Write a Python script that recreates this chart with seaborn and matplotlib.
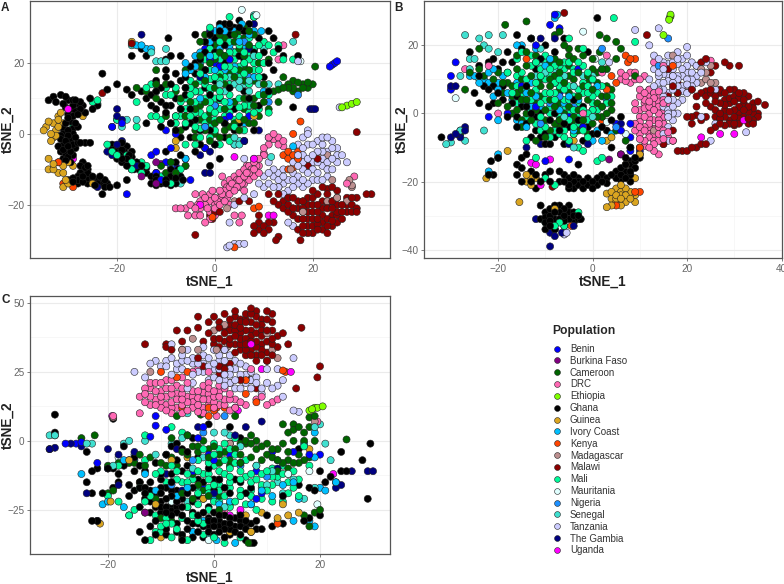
import matplotlib
matplotlib.use('Agg')
import matplotlib.pyplot as plt
import pandas as pd
import seaborn as sns

populations = ['Benin', 'Burkina Faso', 'Cameroon', 'DRC', 'Ethiopia', 'Ghana', 'Guinea', 'Ivory Coast', 'Kenya',
               'Madagascar', 'Malawi', 'Mali', 'Mauritania', 'Nigeria', 'Senegal', 'Tanzania', 'The Gambia', 'Uganda']
colours = ['#0000ff', '#800080', '#006400', '#ff69b4', '#7fff00', '#000000', '#daa520', '#00bfff', '#ff4500',
           '#bc8f8f', '#8b0000', '#00fa9a', '#e0ffff', '#1e90ff', '#40e0d0', '#ccccff', '#000080', '#ff00ff']

# Panel A, values
a_ghana = [(-34,9.5),(-33,10.5),(-32.5,9),(-31.5,11),(-30.5,10.5),(-31,8.5),(-30,9.5),(-29,8),(-28.5,9.5),(-28,8.5),
           (-27.5,9),(-29.5,7),(-28.5,6.5),(-27.5,7),(-30,5.5),(-29,5),(-28,5.5),(-29.5,3.5),(-30.5,3),(-28.5,3),
           (-31,1.5),(-30,1),(-29,1.5),(-31,0),(-30,-0.5),(-29,0),(-31.5,-1.5),(-30.5,-2),(-29.5,-1.5),(-31,-3.2),
           (-30,-3.5),(-29,-3),(-27.5,-2.5),(-26.5,-2.5),(-25.5,-2.5),(-32,-3.5),(-31.5,-5),(-30.5,-5.5),(-29.5,-5),
           (-28.5,-4),(-30,-6.5),(-31,-7),(-27,-8),(-26.5,-9.5),(-27,-10.5),(-26,-11),(-27,-12),(-26,-12.5),(-28,-13),
           (-29,-13.5),(-30,-13),(-27,-13.5),(-26,-14),(-25,-13.5),(-24.5,-14.5),(-23,-14),(-22,-14),(-23.5,-12),
           (-24,-13),(-22.5,-15),(-21.5,-15),(-23,-17),(-20,-14.5),(-18,-13),(-27.5,-11),(-25,7),(-24,8),(-25.5,10),
           (-20,14),(-22,12.5),(-17.5,-6),(-21,-3),(-20,-3.5),(-19,-2.5),(-18,-3.5),(-20.5,-5),(-19.5,-6),(-18.5,-5),
           (-19,-8),(-18,-9),(-17,-8),(-18,-7),(-16.5,-10),(-15.5,-10),(-15,-9),(-14,-11),(-13,-12),(-12,-13),(-11,-14),
           (-13,-14),(-10,-14),(-9,-13.5),(-8,-14),(-10,-12),(-7,-12),(-6.5,-13),(-12,-11),(-9,-10),(-8,-8),(-10,-5),
           (-7,-6),(-18,-6),(-18,12.5),(-17,11),(-15,12),(-13,11),(-12,15),(-10,16),(-11,13),(-9,14),(-8,17),(-10,18),
           (-7,15),(-6,16),(-5,19),(-4,20),(-3,21),(-2,23),(-1,25),(0,27),(1,29),(2,31),(3,31),(4,30),(5,32),(6,29),
           (8,33),(9,27),(11,29),(12,27),(13,24),(11,20),(12,18),(10,23),(14,22),(17,22),(-9.5,27),(-15,24),(-14,22),
           (-17,22),(-7,22),(-10,21),(-9,22),(-4,28),(-2,26),(-14,3),(-11,2),(-9,3),(-8,5),(-10,6),(-12,7),(-13,8),
           (-10,8),(-8,10),(-6,11),(-5,7),(-4,4),(-6,2),(-3,1),(-5,-1),(-3,-3),(-4,-5),(-2,-4),(0,-3),(1,-7),(-1,-9),
           (2,3),(4,7),(1,10),(3,13),(0,15),(-2,18),(2,20),(5,22),(-1,11),(6,12),(5,3),(8,1),(16,7.5),(10,16),(-23,17),
           (-30.5,7.5),(-29,9.5),(-27,8),(-26.5,6),(-30,4.5),(-28,2),(-31.5,-0.5),(-28.5,-1),(-30,-2.5),(-28,-2.5),(-31,-4.5),(-29,-6),
           (-30.5,-7.5),(-29.5,-8),(-27.5,-9),(-26,-9),(-26,-10),(-28,-12),(-25,-12),(-24,-14),(-22.5,-13),(-25.5,-13),(-28,-14),(-29,-12.5),
           (-20,-4),(-21,-4.5),(-19,-4.5),(-17,-5),(-20,-7),(-19,-7),(-17,-6.5),(-16,-8),(-16,-9),(-14,-9.5),(-12,-12),(-11,-12),(-9,-12),(-8,-12.5),
           (-9,-14.5),(-11,-13.5),(-10,-13),(-7.5,-10),(-12,-14.5),(1,31),(3,30),(5,30),(7,31),(0,23),(2,25),(6,21),(8,23),(-1,28),(3,28),(-6,13),(-4,17),(-2,13),
           (-12,12),(-14,10),(-9,8),(-7,7),(-5,3),(-1,1),(2,-1),(4,1),(7,10),(9,8),(11,12),(-8,1),(-7,-1),(-11,9)]
a_cameroon = [(-14,12),(-12,10),(-8,12),(-6,13),(-5,9),(-3,8),(-1,6),(1,4),(3,2),(5,1),(7,3),(9,5),(-2,1),(0,0),(-4,-1),
              (-1,-2),(1,-1),(3,-1),(-3,4),(0,8),(2,7),(6,7),(8,8),(10,9),(11,7),(13,9),(14,13),(15,14),(16,13),(17,12),
              (18,14),(17,14.5),(16,15),(19,13),(20,14),(20.5,19),(14,16),(-3,22),(-1,22),(1,23),(3,24),(5,24),(7,25),
              (0,25),(2,27),(4,26),(6,27),(8,28),(-3,26),(-2,28),(1,28),(3,28),(5,29),(7,29),(-5,18),(-3,19),(-1,20),
              (1,19),(3,21),(6,19),(9,20),(10,14),(8,15),(6,15),(4,16),(2,14),(0,13),(-2,15),(-4,14),(-6,18),(-9,3),(-7,1),
              (-10,14),(-12,18),(-16,13),(11,21),(12,12),(-11,-9),(-9,-8),(-10,-11),(-8,-11),(-6,-9),
              (2,29),(4,28),(6,30),(0,21),(2,22),(4,23),(6,22),(8,24),(-2,2),(0,3),(2,1),(4,3),(6,4),(8,3),(-4,7),(-2,9),(4,9),(6,10),(8,10),(10,11),
              (-6,5),(-4,1),(-1,4),(15,13),(16,12),(18,13),(19,14.5),(13,12.5),(1,16),(3,17),(5,18),(7,18),(-7,10),(-10,5),(-12,14)]
a_mali = [(-7,9),(-6,7),(-5,5),(-7,5),(-6,3),(-4,2),(-2,3),(0,4),(2,5),(4,4),(-5,11),(-3,12),(-1,13),(1,12),(3,11),(5,10),
          (7,9),(9,11),(-4,9),(-2,10),(0,10),(2,9),(4,9),(6,8),(8,6),(-3,6),(-1,7),(1,7),(3,6),(5,5),(7,6),(-2,14),(0,16),
          (2,16),(4,18),(6,17),(8,18),(9,16),(-1,18),(1,17),(3,19),(5,19),(7,21),(9,22),(-2,21),(0,22),(2,22),(4,23),
          (6,23),(8,24),(10,26),(3,26),(5,27),(7,27),(1,26),(-1,24),(-1,30),(3,33),(8,33),(-13,14),(-12,12),(-10,11),
          (-12,5),(-11,4),(-16,9),(-14,13),(-12,14),(-8,13),(-5,15),(13,25),(14,21),(16,21),(12,23),(11,25),(11,11),
          (-21,-5),(-20,-6),(-18,-6),(-17,-8),(-15,-8),(-14,-9),(-17,-10),(-22,-3),(-15,-11),(-9,-14),(-20,4),(-16,2),
          (-29,2),(-25,9),(-24,9.5),(-24,8.5),(1,-3),(3,-2),(-1,-1),(-3,-1),(11,6),(-11,-12),(-7,-10),
          (-6,10),(-4,12),(-7,7),(-5,8),(-3,9.5),(-1,9),(1,9.5),(3,8),(5,7.5),(7,8),(-6,5),(-4,3.5),(-2,5),(0,6),(2,3),(4,2),(-3,1.5),(-1,2),
          (-5,13),(-3,15),(-1,15.5),(1,15),(3,14),(5,16),(7,14),(-1,12),(1,10.5),(2,19),(4,21),(6,20),(8,20),(9,18),(10,20),(1,21),(3,23),(5,25),(7,23),(9,25),(-3,17),(-4,6),
          (-8,5),(-8,3),(-13,5),(-9,11),(-10,13),(-6,-3),(-4,-3),(0,1),(6,1),(9,7)]
a_senegal = [(2,12),(3,13),(4,14),(5,13),(6,14),(7,12),(1,14),(3,16),(5,15),(7,15),(9,14),(11,14),(13,14),(-17,25),
             (-13,23),(-12,20.5),(-11,20.5),(-10,20.5),(-10,24),(16,26),(4,-1),(5,-2),(5,-3),(6,-2),(4,-3),(-19,2),(-18,4),(-16,4),(11.5,-6.5),
             (-21,2),(-8,-11),(-7,-14),(10,24),(8,22),(8,33.5)]
a_ivory = [(-16,25),(-15,25),(-14,24),(-13,24),(-6,17),(-5,18),(-4,19),(-3,20),(-2,18),(0,18),(2,18),(4,19),(-1,22),
           (1,24),(3,25),(5,26),(6,24),(7,28),(8,29),(0,29),(2,29),(4,29),(5.5,31),(9.5,29),(-1,26),(3,9),(6,3),(10,12),
           (16,-3.5),(11,-1),(-2,16),(-4,22),(-9,-8),(-6,-7),(-3,10),(5,17),(1,30),(3,30),(-3,23),(-6,20),(6,20),(8,16)]
a_benin = [(-1,21),(0,20),(1,19),(3,21),(-2,24),(2,4),(3,5),(4,-3),(6,-2),(0,-3),(-2,-4),(-12,-5),(-13,-6),(-12,-11),
           (-11,-13),(-6,-7),(-5,-13),(-8,-9),(-10,-8),(-18,-17),(-20,4),(-21,2),(-19,3),(-10,1),(7,5),(-9,-4),(-8,0),
           (23.5,19),(24,19.5),(24.5,20),(25,20.5)]
a_nigeria = [(3,24),(6,26),(-4,12),(7,16),(17,11),(11,9),(0,8),(-2,2),(-9,-9)]
a_gambia = [(-15,28),(-1,29),(8,31),(-4,12),(-3,16),(-20,7),(-20,5),(-19,4),(-22,-5),(-21,-6),(-20,-3),(-17,-10),(-16,-9),
            (-19,-2),(-3,-6),(-1,-5),(-2,-11),(-1,-11),(6,-2),(9,1),(20,7),(20.5,7),(19.5,7),(-24,-15),(-4,-1),(7,24)]
a_guinea = [(-35,1),(-34.5,2),(-34,3.5),(-33,3),(-32.5,1),(-33.5,0),(-33,-1),(-32,2),(-32,4),(-33.5,-2),(-34,-7),(-33,-8.5),
            (-34,-10),(-33,-10),(-32,-8),(-32,-11),(-31,-9),(-30,-8),(-31,-11),(-30.5,-13),(-31,-15),(-30,-14),(-29,-9),(-32,5),
            (-31.5,6),(-27,5),(-25,-14),(-8,-2),(-8,-4),(5,4),(8,5),(-17,26),(-32.5,-0.5),(-31,3)]
a_drc = [(-6,-21),(-5,-20),(-4,-21),(-3,-19),(-3,-21),(-2,-18),(-2,-20),(-1,-17),(-1,-19),(-1,-22),(0,-18),(0,-20),(0,-21),
         (1,-16),(1,-18),(1,-20),(2,-14),(2,-16),(2,-19),(3,-13),(3,-15),(3,-17),(4,-12),(4,-14),(4,-16),(5,-11),(5,-13),
         (5,-15),(6,-10),(6,-12),(6,-14),(7,-9),(7,-11),(7,-13),(8,-8),(8,-10),(8,-12),(9,-7),(9,-9),(10,-6),(10,-4),
         (11,-3),(11,-1),(12,0),(13,-1),(13,-3),(14,-2),(14,-3.5),(-7,-21),(-8,-21),(-5.5,-23),(-2,-25),(4,-23),(5,-25),
         (5.5,-23),(-1,-24),(13,21),(14,25),(28.5,-12),(27,-14),(1.5,-12),(-4,-17),
         (-3.5,-20),(-2.5,-17),(-1.5,-21),(-0.5,-16),(0.5,-19),(1.5,-17),(2.5,-15),(2.5,-18),(3.5,-14),(3.5,-16),(4.5,-13),(4.5,-15),(5.5,-12),(5.5,-14),(6.5,-11),(6.5,-9),(7.5,-10),(7.5,-12),
         (8.5,-9),(9,-11),(3,-20),(-4,-23),(-3,-23),(0,-23),(6,-16),(12,-1.5),(10,-5.5)]
a_tanzania = [(10,-12),(11,-11),(12,-12),(13,-13),(13,-15),(14,-14),(15,-13),(16,-15),(15,-16),(17,-12),(18,-13),(17,-14),
              (18,-10),(19,-9),(20,-10),(21,-11),(22,-9),(23,-12),(24,-10),(25,-8),(19,-7),(20,-6),(21,-5),(22,-7),(23,-5),
              (24,-4),(18,-4),(17,-3),(18,-1),(19,0),(21,-2),(22,-3),(23,-1),(25,-4),(26,-6),(27,-8),(18,-6),(16,-8),(14,-10),
              (12,-10),(17,-9),(20,-13),(22,-13),(19,1),(14,-17),(12,-15),(10,-15),(8,-17),(6,-18),(4,-20),(3,-25),(15,-25),
              (16,-26),(3,-31.5),(4,-31),(5,-31),(6,-31),(2.5,-32),(8,-7),(6,-7),(25.5,7.5),(17,20.5),
              (19,-11),(21,-8),(23,-8),(20,-8),(18,-8),(24,-7),(22,-5),(20,-3),(17,-6),(16,-11),(19,-14),(18,-15),(21,-13),(23,-10),(25,-6),(24,-2),(22,-1),(19,-3),(16,-13),(14,-12),(11,-14),(9,-14),(13,-11),(11,-8),(15,-18)]
a_malawi = [(14,-19),(15,-20),(16,-18),(17,-21),(18,-19),(19,-20),(20,-18),(21,-20),(22,-19),(23,-17),(24,-19),(25,-18),
            (26,-20),(27,-18),(28,-20),(29,-22),(16,-23),(17,-24),(18,-22),(19,-24),(20,-22),(21,-24),(22,-23),(23,-21),
            (24,-23),(25,-22),(26,-24),(27,-22),(17,-27),(18,-26),(19,-28),(20,-26),(21,-27),(22,-25),(23,-26),(24,-26),
            (25,-25),(20,-16),(22,-15),(24,-15),(13,-17),(14,-21),(12,-19),(11,-17),(29,-18),(31,-17),(32,-17),(29,-21),
            (8,-26),(9,-27),(10,-26),(8,-28),(9,-25),(11,-27),(12,-25),(13,-29),(12.5,-30),(-1,-23),(0,-22),(1,-22),(-0.5,-24),
            (-4,-28.5),(17.5,-30),(23,-28),(5,-19),(7,-19),(29,0.5),(16.5,28),(-23,11.5),(-17,25.5),(21,-7),(19,-9),
            (15,-22),(16,-21),(17,-19),(18,-21),(19,-22),(20,-20),(21,-22),(22,-21),(23,-19.5),(24,-21),(25,-20),(26,-22),(27,-20),(28,-22),(18,-24),(19,-26),(20,-24),(21,-25.5),(22,-27),(23,-24),(24,-24.5),(25,-23),(18,-28),(20,-28),
            (19,-18),(21,-17),(23,-15.5),(25,-16),(15,-18),(13,-20),(28,-18),(10,-28),(11,-25),(9,-23)]
a_madagascar = [(2.5,-21),(4,-19),(13,-15),(18,-22),(20,-25),(23,-19),(25,-18),(27,-19),(27.5,-13),(28,-15),(28,-14.5),
                (24,-13),(23,-6),(16,-21),(15.5,-10)]
a_kenya = [(14,-6),(15,-5),(16,-6),(17,-5),(15,-7),(17,-7),(15,-10),(16,-9.5),(8,-21),(9,-20.5),(17.5,3.5),(16,0),(4,-32),(-32,-8),
           (-31,-14),(-29,-15),(-0.5,-23.5),(18,-19)]
a_uganda = [(-30,7),(-29,-7),(4,-6.5),(8,-7),(11,-23),(12,-23),(-3,-20),(24,-19)]
a_ethiopia = [(26,7.5),(27,8),(28,8.5),(29,9)]
a_burkina = [(-12,-8),(-11,-8.5),(-15,-12),(-12,-14)]
a_mauritania = [(17.5,20.5),(5.5,35),(-6,-9),(8.5,33.5)]

# Panel B
b_ghana = [(-32,-7),(-26,18),(-24,14),(-22,15),(-20,13),(-25,6),(-23,8),(-22,7),(-20,6),(-24,3),(-22,2),(-19,4),(-16,5),(-14,8),
           (-12,13),(-11,16),(-8,18),(-6,22),(-16,23),(-13,22),(-10,20),(-15,19),(-18,18),(-16,-1),(-14,-3),(-12,-5),(-10,-6),
           (-14,2),(-12,-1),(-8,0),(-6,-3),(-4,-6),(-2,-8),(0,-6),(2,-4),(4,-2),(6,-1),(-2,2),(-4,4),(0,10),(-1,18),(1,28),
           (-11,-7),(-9,-9),(-6,-9),(-15,-13),(-14,-12),(-16,-15),(-15,-16),(-16,-18),(-13,-17),(-12,-18),(-10,-18),(-9,-17),(-7,-17),
           (-6,-18),(-11,-20),(-9,-20),(-7,-20),(-5,-19),(-4,-18),(-3,-19),(-5,-21),(-4,-22),(-3,-21),(-2,-20),(-1,-19),(-2,-22),
           (0,-20),(1,-19),(2,-20),(2,-18),(3,-19),(4,-18),(5,-17),(5,-19),(6,-18),(7,-17),(6,-16),(7,-19),(8,-18),(7,-15),(8,-14),
           (9,-16),(9,-13),(10,-12),(8,-20),(-11,-27),(-10,-29),(-9,-28),(-8,-29),(-7,-27),(-6,-28),(-5,-27),(-4,-29),(-3,-30),
           (-11,-31),(-10,-32),(-9,-33),(-8,-31),(-7,-31),(-6,-33),(-5,-31),(-4,-30),(-3,-31),(-10,-34),(-8,-34),(-2.5,-31),
           (-21.5,-14),(-20,-13),(-21,-18),(-22,-18),(6,-12),(4,-10),(8,-10),(3,-5),(10,-13),(-3,-15),(-12,-22),(-15,-20),(-13,-20),
           (-21,16),(-19,15),(-17,15),(-21,8),(-19,8),(-17,3),(-15,2),(-13,0),(-11,0),(-9,-2),(-7,-5),(-5,-4),(-3,-2),(-1,-4),(1,-6),(-24,11),(-21,3),(-18,-1),(-16,-4),(-13,-7),(-10,-9),(-8,-7),
           (-3,-20),(-1,-21),(1,-21),(3,-20.5),(-6,-20),(-5,-22),(-4,-20),(0,-22),(6,-19.5),(7,-13),(8,-15),(9,-14),(8,-17),(7,-18),(-9,-30),(-7,-29),(-5,-29),(-8,-27),(-6,-30),(-10,-30.5),(-9,-31.5),(-4,-32),(-6,-31.5)]
b_cameroon = [(-24,13),(-23,11),(-21,10),(-19,9),(-17,8),(-15,7),(-13,6),(-11,5),(-9,4),(-7,3),(-5,2),(-3,1),(-1,0),(1,-1),(3,0),
              (-20,3),(-18,2),(-16,1),(-14,0),(-12,1),(-10,-2),(-8,-3),(-6,-1),(-4,-3),(-2,-4),(0,-3),(2,-1),(-18,12),(-16,13),
              (-14,14),(-12,15),(-10,12),(-8,11),(-6,9),(-4,10),(-2,8),(0,7),(2,5),(4,3),(-19,6),(-17,5),(-15,4),(-13,3),(-11,8),
              (-9,8),(-7,7),(-5,6),(-3,5),(-1,4),(1,3),(3,8),(-18.5,26),(-14,27),(-8,23),(-7,24),(-6,20),(-5,19),(-4,16),(-2,17),
              (0,13),(2,13),(1.5,23),(3,22),(5,21),(6,19),(5,16),(-26,12),(-27,7),(-24,19),(-8,16),(-11,11),(-1,11),(1,12),(-28,-6),
              (9,11),(-5,14),(8,-10),(7,-8),(5,-5),
              (-20,12),(-18,9),(-16,6),(-14,4),(-12,3),(-10,1),(-8,2),(-6,0),(-4,-1),(-2,-2),(0,1),(2,2),(4,1),(-15,10),(-13,11),(-11,10),(-9,10),(-7,12),(-5,11),(-3,12),(-1,9),(1,9),(3,5),(-17,0),(-15,-2),(-13,-2),(-11,-3),(-9,-5),
              (-7,-2),(-5,-3),(-3,-5),(-1,-6),(-16,17),(-14,18),(-12,17),(-9,15),(-7,15),(-5,17),(-3,19),(0,16),(1.5,18),(3,13),(4,7),(-12,-8),(-10,-7),(-7,-4),(-15,-4)]
b_mali = [(-18,12),(-16,11),(-14,10),(-12,9),(-10,10),(-8,9),(-6,10),(-4,12),(-2,14),(-13,14),(-11,13),(-9,13),(-7,14),(-5,15),(-3,15),
          (-16,16),(-15,18),(-13,17),(-10,17),(-17,6),(-15,5),(-13,4),(-11,3),(-9,2),(-7,1),(-5,0),(-3,-1),(-1,-2),(-14,-1),(-12,-3),
          (-10,-4),(-8,-5),(-6,-5),(-4,-4),(-2,-2),(0,1),(2,2),(-6,4),(-4,5),(-2,6),(0,5),(2,8),(4,5),(-10,6),(-8,6),(-12,7),(-6,7),
          (-4,8),(-2,9),(0,10),(-3,3),(-1,6),(-13,22),(-6,15),(-5,22),(-2,19),(-4,13),(4.5,28),(9,21),(-14,-8),(-12,-13),(-10,-19),
          (-8,-21),(-6,-7),(-3,-10),(-2,-11),(1,-14),(2,-13),(-7,-32),(-6,-33),(-3,-29),(-8,-33),(-10,-32),(-5,-8),(-1,-7),
          (-16,8),(-14,7),(-12,6),(-10,4),(-8,4),(-6,2),(-4,1),(-2,1),(0,3),(-15,12),(-11,11),(-9,11),(-7,10),(-5,8),(-3,7),(-1,8),(1,6),(3,3),(-12,15),(-10,15),(-8,14),(-6,13),(-3,13),(-1,12),(-16,3),(-13,1),(-11,-1),(-9,0),(-7,-1),
          (-5,-2),(-3,-3),(-1,0),(1,1),(-11,-5),(-9,-7),(-7,-6),(-4,-6),(-2,-5),(-7,8),(-5,4),(-9,6)]
b_ivory = [(-26,11),(-25,11),(-23,10),(-22,12),(-21,13),(-20,9),(-19,11),(-20,7),(-21,5),(-18,6),(-16,9),(-15,3),(-14,6),(-13,9),
           (-15,-3),(-14,-4),(-11,2),(-10,14),(-9,16),(-8,28),(-16,20),(-15,20),(-12,19),(-20,-2),(-8,-5),(2,13),(1,8),(1,-5),(0,-8),
           (-5,5),(-6,3),(-4,-5),(-22,-17),(-20,-12),(2,-8),(4,-6),(10,-10),(-7.5,29),(-3,4),(-7,1),(-17,4),(-16,-2),(-24,9),(-22,9),(-13,2),(-12,5)]
b_senegal = [(-27,23),(-24,22),(-22,23),(-19,23),(-23,20),(-22,19),(-20,18),(-26,16),(-25,16),(-28,11),(-26,13),(-24,10),(-11,14),(-10,12),
             (-8,13),(-6,11),(-4,8),(-2,11),(0,11),(2,15),(-12,11),(-28,-5),(-23,-5),(-27,-8),(-31,-9),(-30,-8.5),(-11,19),(0,-1),(-20,-13),
             (-4,-10),(-6,-1)]
b_benin = [(-30,7),(-30,11),(-29,15),(-22,-1),(-15,8),(-12,2),(-8,9),(-9,26),(-8,29),(-7,25),(-12,20),(-7,6),(-5,-1),(-2,-4),(5,-3),(6,-5),
           (8,-3),(8,-7),(8,-11),(10,-11),(-5,-13.5),(-10,-14),(-18,0),(-3,13)]
b_nigeria = [(-9,3),(-7,5),(0,-1),(3,4),(2,19),(16,22),(14,14),(-11,-3),(-4,2),(5,-4)]
b_gambia = [(-29,-6),(-28,-5),(-28,-7),(-27,-5),(-27,-4),(-30,-7),(-30,8),(-29,8),(-14,-10),(-8,-34),(-9,-39),(-8,-36),(-6.5,-35),(-4,-33),
            (-12,-31),(-9,-35),(-7,-2),(-11,-9),(-5,-9),(-1,-9),(-7,9),(-11,22),(-8,22),(6,-3),(-28.5,-6)]
b_guinea = [(-14,-18),(-14,-20),(-13,-19),(-13,-21),(-12,-19),(-15.5,-26),(-18,-11),(-4,-8),(4,-23),(4,-25),(5,-22),(5,-24),(5,-26),(6,-23),
            (6,-25),(6,-27),(7,-24),(7,-26),(8,-23),(8,-25),(9,-24),(4,-27),(3,-27.5),(3,-23.5),(7,-22),(6,-21),(9,-26),(10,-12),(9,-19),
            (-22.5,-19),(4,-7),(3,-8),(7,-15),(-8,-28),(5,-25),(6,-24),(7,-25),(8,-24)]
b_drc = [(6,12),(7,11),(8,12),(9,10),(10,10),(11,11),(10,7),(11,6),(12,5),(13,6),(14,5),(11,3),(12,2),(13,3),(14,2),(15,3),(10,1),(12,0),
         (14,0),(15,-1),(11,-1),(13,-2),(9,-3),(10,-4),(12,-4),(14,-4),(11,-5),(13,-6),(15,-5),(10,-6),(12,-7),(14,-8),(16,-7),(11,-8),(13,-9),
         (15,-9),(13,-11),(12,-10),(14,-12),(17,-8),(6,10),(13,15),(15,14),(3,17),(2,12),(-22,14),(-27,13),(-20,0),(-2,0),(25,15.5),(15,4),
         (9,3),(11,4),(13,4.5),(15,6),(10,5),(12,3.5),(14,3.5),(11,1.5),(13,1),(15,1),(9,1),(10,-1),(12,-1.5),(14,-2),(10,-2.5),(12,-3),(14,-3),(9,-5),(11,-4),(13,-4.5),(15,-3),(10,-7.5),(12,-6),(14,-6),(16,-5.5),(11,-9.5),(13,-8),(15,-7.5),
         (7,9.5),(9,12),(8,9),(12,7),(14,6.5),(16,3)]
b_tanzania = [(13,17),(14,16),(16,17),(17,15),(19,16),(20,14),(15,13),(17,13),(19,13),(21,12),(22,14),(14,11),(16,11),(18,11),(20,10),(22,11),
              (15,9),(17,9),(19,8),(21,8),(13,8),(12,7),(14,7),(16,6),(18,6),(20,6),(13,4),(15,5),(17,4),(19,4),(15,2),(17,2),(18,0),(16,0),(17,-2),
              (16,-4),(15,-6),(16,-8),(20,19.5),(9,24.5),(14,25),(16,1),(23,12),(24,15),(18,10),(12,20),(3.5,15),(-5.5,-35),(-6,-35.5),
              (26,7),(23,-1),(26,-3),(32.5,-5.5),(25,-8),(20,17),
              (15,15),(16,14.5),(18,14.5),(18,16),(21,15),(15,11.5),(17,11),(19,11),(21,10),(16,9.5),(18,8),(20,8.5),(14,9),(15,7),(17,7),(19,6.5),(13,6),(16,4),(18,3),(14,12),(20,12),(22,9),(16,-1),(15,-3),(17,0),(12,10),(13,13),(18,18),(21,7)]
b_malawi = [(21,7),(23,6),(25,6),(27,6),(29,7),(31,6),(33,5),(24,5),(26,5),(28,4),(30,5),(32,4),(34,3),(27,3),(29,3),(31,2),(33,2),(35,0),(25,2),
            (26,1),(28,1),(30,1),(32,1),(34,0),(24,-1),(26,-1),(28,-1),(30,-1),(32,-1),(34,-2),(27,-3),(29,-3),(31,-3),(33,-3),(36.5,2.5),(35,3.5),
            (22,2),(21,-1),(23,-2),(21,-3),(20,-1),(25,-5),(26,-4),(18,-11),(19,-11),(20,-11),(21,-10),(22,-10),(23,-9),(24,-9),(15,-9),(17,-5),
            (17,8),(17,11),(16,13),(18,9),(23,15),(24,16),(26,14),(25,12),(28,15),(29,14),(31,14),(11.5,23),(-6,29.5),(18,6),(16,5),(-8.5,-21.5),
            (28,6),(30,7),(32,6),(26,3.5),(28,2.5),(30,3.5),(32,3),(34,1.5),(29,0.5),(31,0),(33,0.5),(27,-1.5),(29,-2),(31,-1.5),(33,-1.5),(28,-3.5),(30,-3),(24,6.5),(22,5),(24,3),(22,-0.5),(35,-1),(27,0),(29,4.5),(31,4.5),(25,7),(27,7),(34,-3),(30,-3.5)]
b_madagascar = [(24,10),(25,9),(23,9),(24,12),(23,13),(25,14),(17,17),(20,8),(13,-5),(26,9),(22,14),(15,3)]
b_kenya = [(7,17),(8,16),(7.5,15),(9,16),(4,11),(5,9),(3,7),(2,-2),(-14,16),(10,-10),(17,-8),(5,-27),(9,-23),(10,-23),(-4.5,-33),(17,14)]
b_uganda = [(-13,-14.5),(-12,-15),(-9,-13.5),(-11,-21),(23,-7),(27,-6),(30.5,-1.5),(32,-2),(30,-6)]
b_ethiopia = [(16.5,29),(16.5,28.5),(16.3,28),(16.2,27.5),(15,23)]
b_burkina = [(3.5,-13.5),(6,-12)]
b_mauritania = [(-29,4.5),(-2,24),(0.5,16),(3,-2.5),(7,-6)]

# Panel C
c_ghana = [(-30,9.5),(-30,3),(-31,-3),(-24,-4),(-24,-15),(-20,-10),(-18,-12),(-19,8),(-17,-2),(-15,-6),(-14,-9),(-22,-10),(-23,-11),
           (-16,-16),(-15,-18),(-14,-17),(-13,-19),(-12,-18),(-11,-20),(-10,-19),(-9,-17),(-8,-20),(-7,-18),(-6,-21),(-12,-22),(-11,-24),(-10,-22),
           (-9,-24),(-8,-23),(-7,-26),(-6,-24),(-10,-26),(-8,-27),(-13,-21),(-14,-15),(-5,-19),(-4,-22),(-3,-20),(-2,-26),(-1,-28),(0,-26),(1,-29),
           (2,-27),(3,-30),(4,-28),(5,-31),(6,-29),(7,-33),(8,-32),(9,-32),(3,-32),(1,-33),(-1,-31),(-3,-30),(-5,-32),(-7,-33),(-9,-34),(-4,-35),
           (-2,-35),(0,-34),(-6,-36),(2,-35),(5,-34),(6,-36),(7.5,-37),(-14,-33),(-12,-31),(-11,-34),(-13,-36),(-8,-2),(-6,-3),(-4,1),(-7,-7),(-5,-9),
           (-3,-6),(-1,-10),(1,-14),(-8,-12),(-10,-14),(3,-19),(5,-15),(7,-17),(-3,-14),(0,-18),(10,-27),(11,-31),(13,-30),(13,-20),(16,-16),(18,-17),
           (19,-18),(20,-11),(21,-15),(24,-4),(28,-7),(29,-21),(29.5,-1),(24,-11),(25,-11),(23,-15),(22,-13),(16,-3),(-1,6),(3,5),(5,1),(-22,-29),(-23,-29),
           (18,-28),(17,-29),(20,-27),(-19,-17),(-21,-19),(-23,-19),(-18,-15),
           (-13,-17),(-12,-20),(-10,-17),(-9,-21),(-8,-18),(-7,-22),(-9,-26),(-7,-24),(-11,-22),(-5,-24),(-4,-26),(-6,-27),(-8,-25),(-10,-24),(-3,-27),(-1,-24),(0,-29),(1,-27),(2,-30),(3,-28),(4,-31),(5,-29),(6,-32),(7,-30),(-1,-29),(0,-31),(1,-31),(2,-32),(3,-34),(4,-33),
           (5,-27),(6,-31),(8,-29),(-5,-29),(-7,-30),(-9,-32),(-3,-33),(-1,-33),(-4,-30),(-2,-31),(-6,-34),(-11,-29),(-12,-26),(-14,-24),(-16,-20),(-12,-15),(-10,-12),(-8,-15),(-6,-11),(-4,-17),(-2,-15),(0,-14),(2,-17),(4,-14),(6,-19),(-5,-4),(-7,-1),(-9,-5),(-11,-8),(-13,-11),(-15,-11),(-17,-9),(-19,-10)]
c_cameroon = [(-30,2),(-25,1),(-22.5,2),(-12,-6),(-14,-5),(-16,-8),(-18,-8),(-20,-9),(-10,-8),(-8,-6),(-6,-4),(-4,-2),(-2,0),(0,-2),(2,-4),(4,-3),(6,-1),
              (7,2),(8,0),(10,-1),(12,-3),(14,-4),(13,-8),(11,-6),(9,-7),(7,-6),(5,-8),(3,-9),(1,-8),(-1,-6),(-3,-4),(-5,2),(-8,1),(14,3),(15,4),(16,5),(17,3),(18,5),
              (13,6),(15,6),(17,0),(16,-5),(17,-7),(15,-8),(14,-10),(12,-11),(18,-6),(19,0),(25,0.5),(18,8.5),(19,9),(-11,-21),(-5,-18),(-3,-16),(1,-25),(5,-26),
              (-7,9),(-5,-17),(-2.5,9.5),(4,9),(-20,-19),(-19,-18),(18,-31),(17,-27),(19,-26),(20,-25),(7,-37),(6.5,-37),(3,-1),(-4,-12),(-6,-19),(-2,-18),
              (5,-1),(7,-1),(9,-2),(11,-3),(13,-1),(15,0),(6,0),(8,-3),(10,-5),(12,-7),(14,-7),(16,-8),(5,-5),(3,-7),(1,-5),(-1,-3),(-3,-2),(-5,-5),(-7,-9),(-9,-9),(-13,-9),(-15,-8),(-4,-21),(-1,-20),(1,-20),(3,-23),(-8,-29),(-10,-28)]
c_mali = [(-14,-17),(-12,-20),(-11,-27),(-9,-28),(-8,-30),(-7,-32),(-10,-31),(-11,-33),(-12,-36),(-6,-28),(-5,-24),(-4,-27),(-3,-23),(-2,-21),(-1,-19),(0,-16),(1,-14),
          (2,-12),(3,-10),(4,-8),(5,-11),(6,-13),(7,-12),(8,-14),(9,-16),(10,-18),(11,-10),(12,-7),(13,-12),(14,-15),(15,-17),(16,-20),(-2,-12),(-1,-8),(0,-5),(1,-3),(2,-1),(-3,-17),
          (-4,-14),(-5,-12),(-6,-15),(-7,-11),(-8,-9),(-9,-15),(-3,-7),(-1,-14),(1,-18),(3,-15),(5,-18),(7,-20),(9,-12),(11,-16),(13,-22),(-13,-22),(-15,-25),(-16,-27),(-18,-22),(-20,-20),
          (-18,-9),(-13,-7),(-13,2),(-8,5),(-6,3),(4,1),(-5,-36),(-2,-34),(0,-35),(2,-37),(5,-35),(3,-24),(1,-22),(-1,-25),(-3,-29),(12,-29),(14,-19),(17,-2),(18,-9),(-11,-12),
          (0,-9),(2,-7),(4,-5),(6,-7),(8,-9),(10,-11),(12,-13),(1,-11),(3,-13),(5,-14),(7,-15),(9,-17),(-1,-12),(-3,-11),(1,-16),(3,-17),(5,-20),(7,-18),(9,-21),(11,-22),(-1,-17),(-3,-19),(0,-22),(2,-20),(4,-22),(6,-23),(8,-25),(-5,-15),(-7,-14),(-10,-11),
          (14,-12),(16,-14),(15,-11),(13,-9),(11,-13),(-2,-3),(0,-1),(3,-3),(-9,-30),(-10,-33),(-8,-35),(-4,-33),(-2,-30)]
c_senegal = [(-31,2),(-30,2),(-24,-1),(-23,-1),(-17,-1),(-16,0),(-13,0),(-11,-5),(-8,-1),(-6,1),(-4,-10),(-2,-6),(0,3),(2,3),(3,2),(5,-2),(8,-9),(10,-16),(11,-11),(12,-15),(13,-19),
          (15,-14),(17,-21),(19,-17),(19,5),(20,6),(21,-1),(22,-7),(-20,-10),(-19,-9),(-5,-22),(0,-29),(2,-24),(-1,-35),(-5,10)]
c_ivory = [(-25,-12),(-21,-23),(-20,-22),(-17,-24),(-16,-27),(-17,-7),(-15,-7),(-13,-12),(-11,-18),(-8,-15),(-7,-20),(-5,-17),(-3,-28),(-4,-33),(0,-21),(1,-23),(3,-22),(5,-20),(7,-23),(9,-18),
           (11,-20),(13,-16),(15,-15),(16,-21),(19,-6),(20,-17),(21,-18),(23,-15),(18,-29),(19,-31),(15,-29),(4,-37),(0.5,-36),(-2,-29),(19,3)]
c_benin = [(-28,-1),(-26,-1),(-25,-0.5),(-22,-8),(-20,-10),(-11,9),(-11,5.5),(-12,1.5),(-9,4),(-5,2),(-2,5),(-3,1),(-1,-5),(0,-7),(3,-5),(5,-8),(8,-21),(11,-4),(15,-4),(18,-5),(20,-5),(-4,-11),
           (-2,-17),(8,-11),(9,-19),(7,-23)]
c_nigeria = [(2,9),(-9,-5),(-8,-16),(-4,-7),(5,-9),(10,-13),(-15,-5),(-2,3),(17,-1)]
c_gambia = [(-31,-3),(-30,-2.5),(-25,-2),(-27,-1),(-18,-5),(-20,-3),(-16,-7),(-15,-4),(-24,-19),(-22,-29),(6,5),(9,7),(-9,-12),(-6,-18),(0,-19),(12,-10),(26,-11),(29,-11),(30,-11),(24,-16),(23,-17),
           (-18,-16),(4,2),(-3,5),(-7,-3)]
c_guinea = [(-19.5,-22),(-14,-15),(-13,-26),(-11,-23),(-10,-35),(-8,-7),(-6,-35),(-5,-6),(-2,-21),(3,-33),(6,-27),(7,-33),(9,-26),(12,-28),(14,-27),(16,-26),(13,-23),(-21.5,-30),(18,-3),(-16,-7)]
c_drc = [(-14,16),(-13,17),(-12,19),(-11,18),(-10,21),(-9,19),(-8,17),(-7,15),(-6,17),(-5,14),(-4,16),(-3,13),(-2,15),(-1,17),(0,14),(1,16),(2,13),(3,15),(4,12),(5,14),(-13,14),(-12,13),(-11,15),(-10,16),
         (-9,13),(-8,14),(-9,11),(-7,12),(-6,13),(-5,11),(-4,12),(-3,10.5),(-2,12),(-1,13),(-3,18),(-2,20),(-1,21),(0,18),(1,20),(2,19),(3,21),(-7,20),(-8,22),(-6,23),(-4,25),(-5,21),(-10,12),(-8,10),(-1,25),
         (0.5,9),(3,11),(6,13),(8,15),(10,13),(11,14),(12,15),(9,16),(-3,26),(7,26),(-19,9),(19.5,7),(-14,10),(2,-25),
         (-12,16),(-11,13),(-10,18),(-9,16),(-8,19),(-7,17),(-6,19),(-5,16),(-4,18),(-3,15.5),(-2,17.5),(-1,15),(0,16),(1,13),(2,15),(3,17),(4,15),(-12,21),(-10,14),(-8,12),(-6,10),(-4,14),(-2,10),(0,12),(1,18),(-1,19),(-6,15),(-13,19),(-11,21),(-9,22)]
c_tanzania = [(-15,25),(-13,23),(-12,28),(-10,27),(-9,29),(-8,30),(-7,28),(-6,31),(-5,33),(-4,30),(-3,28),(-2,31),(-1,30),(0,28),(1,26),(2,29),(3,31),(4,26),(5,24),(6,27),(7,25),(-4,24),(-2,25),(0,23),(2,24),(3,21),
              (5,19),(6,21),(7,19),(8,21),(9,17),(10,21),(11,19),(12,20),(13,16),(-8,24),(-6,26),(-5,19),(-4,21),(-1,22),(1,22),(4,29),(12,26),(15,30),(13,22),(15,11),(16,10.5),(-6,33),(-8,35),(-2,34),(0,33),(2,33),(8,31),
              (-11,29),(-9,27),(-7,26),(-6,29),(-4,28),(-3,25),(-1,27),(1,29),(3,26),(5,28),(0,26),(2,22),(4,22),(6,24),(8,23),(7,22),(9,19),(-5,29),(-2,28),(1,31),(3,24),(10,26),(4,19),(2,20)]
c_malawi = [(-3,45),(-3,41),(-1,39),(-2,36),(0,37),(1,34),(2,36),(3,40),(4,38),(5,35),(6,33),(7,36),(8,34),(9,31),(10,32),(3,44),(4,42),(5,44),(6,46),(7,48),(8,45),(9,42),(10,44),(11,43),(2,46),(1,43),(4,47),(6,43),(7,40),(8,39),(9,38),
            (5,39),(6,37),(7,33),(3,35),(2,33),(4,32),(8,31),(11,37),(12,38),(12,34),(13,39),(14,35),(10,47),(11,46),(0,45),(-7,40),(-5,40),(-6,36),(-8,33),(-9,35),(-13,35),(-3,30),(-2,27),(1,27),(2,28),(3,28),(5,22),(6,23),(16.5,41),
            (20,27),(19.5,23),(15.5,19),(7,22),(8,19),(2,26),(1,24),(-9,34),
            (3,37),(4,35),(5,37),(6,35),(7,38),(8,36),(9,35),(10,36),(11,35),(3,42),(4,40),(5,41),(6,40),(7,43),(8,42),(9,44),(5,43),(4,45),(6,44),(7,46),(8,47),(2,39),(1,37),(2,41),(9,40),(10,40),(11,40),(7,31),(5,33),(6,31),(8,29),(9,33),(10,29),(11,31),(-1,43),(1,41),(0,35)]
c_madagascar = [(-12,25),(-6,33),(0,40),(2,42),(0.5,33),(2.5,34),(-3,33),(10,39),(11,33),(12,30),(10,29),(19,7),(-19,8.5),(3,-1),(-4,37)]
c_kenya = [(-10,25),(-5,25),(6,24),(6,22),(13,25.5),(13.5,25),(6,17),(8,14),(-6,12),(-1,12),(2,12),(0,11),(-1,9),(0.5,12),(12,-30),(-7,23)]
c_uganda = [(9,26),(14.5,25),(7,35),(4,12),(4.5,11),(22.5,-12),(-7,-22),(-19.2,9),(3,-27),(5,-25)]
c_ethiopia = [(18,11),(18.5,11.5),(19,12),(19.5,12),(20.5,12.5)]
c_burkina = [(-13,-26)]
c_mauritania = [(-18,-6),(-1,-36),(18,-11),(19.5,-23),(-8,-22),(14,-12)]

panel_a = {'Ghana': a_ghana, 'Guinea': a_guinea, 'Cameroon': a_cameroon, 'The Gambia': a_gambia, 'Benin': a_benin,
           'Mali': a_mali, 'Nigeria': a_nigeria, 'Senegal': a_senegal, 'Ivory Coast': a_ivory, 'Burkina Faso': a_burkina,
           'Mauritania': a_mauritania, 'Ethiopia': a_ethiopia, 'Tanzania': a_tanzania, 'DRC': a_drc, 'Madagascar': a_madagascar,
           'Malawi': a_malawi, 'Kenya': a_kenya, 'Uganda': a_uganda}
panel_b = {'Ghana': b_ghana, 'Guinea': b_guinea, 'Cameroon': b_cameroon, 'The Gambia': b_gambia, 'Benin': b_benin,
           'Mali': b_mali, 'Nigeria': b_nigeria, 'Senegal': b_senegal, 'Ivory Coast': b_ivory, 'Burkina Faso': b_burkina,
           'Mauritania': b_mauritania, 'Ethiopia': b_ethiopia, 'Tanzania': b_tanzania, 'DRC': b_drc, 'Madagascar': b_madagascar,
           'Malawi': b_malawi, 'Kenya': b_kenya, 'Uganda': b_uganda}
panel_c = {'Ghana': c_ghana, 'Guinea': c_guinea, 'Cameroon': c_cameroon, 'The Gambia': c_gambia, 'Benin': c_benin,
           'Mali': c_mali, 'Nigeria': c_nigeria, 'Senegal': c_senegal, 'Ivory Coast': c_ivory, 'Burkina Faso': c_burkina,
           'Mauritania': c_mauritania, 'Ethiopia': c_ethiopia, 'Tanzania': c_tanzania, 'DRC': c_drc, 'Madagascar': c_madagascar,
           'Malawi': c_malawi, 'Kenya': c_kenya, 'Uganda': c_uganda}


def to_frame(panel):
    rows = []
    for name, pts in panel.items():
        for x, y in pts:
            rows.append({'tSNE_1': x, 'tSNE_2': y, 'Population': name})
    df = pd.DataFrame(rows)
    # the populations overlap in the original, so mix up the drawing order a bit
    order = sorted(range(len(df)), key=lambda i: (i * 37) % 101)
    return df.iloc[order]


sns.set_theme(style='whitegrid', rc={'grid.color': '#ebebeb', 'grid.linewidth': 0.7})
plt.rcParams['font.family'] = ['Liberation Sans', 'DejaVu Sans']

W, H = 784, 584
fig = plt.figure(figsize=(W / 100, H / 100), dpi=100)
palette = dict(zip(populations, colours))

# left, right, top, bottom of each panel in pixels, then limits, ticks and tag
layouts = [
    (panel_a, (30, 390, 1, 258), (-37.8, 35.8), (-35.0, 37.5), [-20, 0, 20], [-20, 0, 20], 'A'),
    (panel_b, (424, 782, 1, 258), (-35.7, 40.1), (-42.4, 33.0), [-20, 0, 20, 40], [-40, -20, 0, 20], 'B'),
    (panel_c, (30, 390, 296, 554), (-34.7, 33.2), (-41.0, 52.5), [-20, 0, 20], [-25, 0, 25, 50], 'C'),
]

for panel, (l, r, t, b), xlim, ylim, xticks, yticks, tag in layouts:
    ax = fig.add_axes([l / W, 1 - b / H, (r - l) / W, (b - t) / H])
    sns.scatterplot(data=to_frame(panel), x='tSNE_1', y='tSNE_2', hue='Population', hue_order=populations,
                    palette=palette, s=26, edgecolor='#222222', linewidth=0.4, legend=tag == 'C', ax=ax, zorder=3)
    ax.set_xlim(xlim)
    ax.set_ylim(ylim)
    ax.set_xticks(xticks)
    ax.set_yticks(yticks)
    ax.set_xticklabels([str(v).replace('-', '\u2212') for v in xticks])
    ax.set_yticklabels([str(v).replace('-', '\u2212') for v in yticks])
    ax.set_xticks([(a + c) / 2 for a, c in zip(xticks[:-1], xticks[1:])], minor=True)
    ax.set_yticks([(a + c) / 2 for a, c in zip(yticks[:-1], yticks[1:])], minor=True)
    ax.grid(which='minor', color='#f2f2f2', linewidth=0.4)
    ax.grid(which='major', color='#ebebeb', linewidth=0.8)
    ax.set_axisbelow(True)
    ax.tick_params(axis='both', which='major', labelsize=7.2, colors='#666666', length=2.5, width=0.6, bottom=True, left=True, pad=1.5)
    ax.tick_params(axis='both', which='minor', length=0)
    ax.set_xlabel('tSNE_1', fontsize=9.8, fontweight='bold', color='#222222', labelpad=1)
    ax.set_ylabel('tSNE_2', fontsize=9.8, fontweight='bold', color='#222222', va='center')
    ax.yaxis.set_label_coords(-22 / (r - l), 0.5)
    for side in ax.spines.values():
        side.set_color('#555555')
        side.set_linewidth(0.9)
    fig.text((1 if tag != 'B' else 394) / W, 1 - (t + 7 - (3 if tag == 'C' else 0)) / H, tag, fontsize=8.5, fontweight='bold', color='#222222', va='center')
    if tag == 'C':
        handles, labels = ax.get_legend_handles_labels()
        ax.get_legend().remove()

for handle in handles:
    handle.set_markersize(4.2)
    handle.set_markeredgewidth(0.4)
leg = fig.legend(handles, labels, title='Population', loc='upper left', bbox_to_anchor=(552 / W, 1 - 325 / H), frameon=False,
                 fontsize=7, title_fontproperties={'weight': 'bold', 'size': 8.7}, labelspacing=0.19, handlelength=1.03,
                 handletextpad=0.82, borderpad=0, borderaxespad=0)
leg._legend_box.align = 'left'
leg._legend_box.sep = 5
for text in leg.get_texts():
    text.set_color('#333333')

fig.savefig('out.png', dpi=100)
